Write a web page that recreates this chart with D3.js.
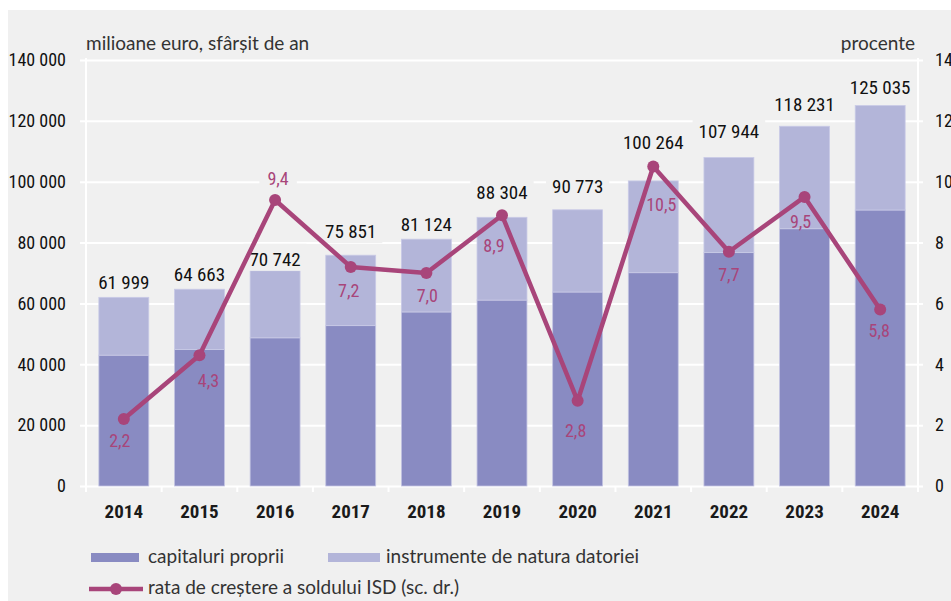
<!DOCTYPE html>
<html>
<head>
<meta charset="utf-8">
<script src="https://cdn.jsdelivr.net/npm/d3@7"></script>
<style>
  body { margin: 0; background: #fff; }
  svg { display: block; }
  .cond { font-family: "Liberation Sans Narrow", "Roboto Condensed", "DejaVu Sans Condensed", sans-serif; }
  .reg { font-family: Lato, "Noto Sans", sans-serif; }
</style>
</head>
<body>
<div id="chart"></div>
<script>
// categories and series
var years = ["2014", "2015", "2016", "2017", "2018", "2019", "2020", "2021", "2022", "2023", "2024"];
var equity = [43000, 44900, 48700, 52700, 57200, 61100, 63750, 70100, 76700, 84550, 90700];
var totals = [61999, 64663, 70742, 75851, 81124, 88304, 90773, 100264, 107944, 118231, 125035];
var growth = [2.2, 4.3, 9.4, 7.2, 7.0, 8.9, 2.8, 10.5, 7.7, 9.5, 5.8];
var leftTicks = [0, 20000, 40000, 60000, 80000, 100000, 120000, 140000];
var rightTicks = [0, 2, 4, 6, 8, 10, 12, 14];

var W = 951, H = 601;
var mLeft = 86, mRight = 918, mTop = 60, mBottom = 486;

var colDark = "#898bc2", colLight = "#b3b5d9", colLine = "#a8457a", bg = "#f0f0f0";

// label tweaks (pixels) to keep text off the line
var totGap = [8, 8, 5, 17, 8, 18, 17, 32, 20, 15, 12];
var rateDx = [-4, 9, 3, -2, 1, -8, -2, 8, 0, -4, -1];
var rateDy = [28, 32, -15, 30, 29, 37, 36, 44, 29, 31, 27];

var fmt = d3.formatLocale({decimal: ",", thousands: " ", grouping: [3], currency: ["", ""]});
var fmtInt = fmt.format(",d");
var fmtPct = fmt.format(".1f");

var svg = d3.select("#chart").append("svg")
    .attr("width", W)
    .attr("height", H);

svg.append("rect")
    .attr("x", 8).attr("y", 10)
    .attr("width", W - 8).attr("height", H - 10)
    .attr("fill", bg);

var x = d3.scaleBand().domain(years).range([mLeft, mRight]).paddingInner(0.34).paddingOuter(0.17);
var y = d3.scaleLinear().domain([0, 140000]).range([mBottom, mTop]);
var y2 = d3.scaleLinear().domain([0, 14]).range([mBottom, mTop]);

// gridlines
var grid = svg.append("g")
    .attr("transform", "translate(" + mLeft + ",0)")
    .call(d3.axisLeft(y).tickValues(leftTicks).tickSize(-(mRight - mLeft)).tickFormat(""));
grid.select(".domain").remove();
grid.selectAll("line")
    .attr("x1", -6).attr("x2", mRight - mLeft + 5)
    .attr("stroke", "#fff").attr("stroke-width", 2);

// vertical axis lines
[mLeft, mRight].forEach(function(px) {
  svg.append("line")
    .attr("x1", px).attr("x2", px)
    .attr("y1", mTop - 2).attr("y2", mBottom + 6)
    .attr("stroke", "#fff").attr("stroke-width", 2);
});

// x ticks at category boundaries
var bounds = years.map(function(d) { return x(d) - x.step() * x.paddingInner() / 2; });
bounds.push(mRight);
svg.append("g").selectAll("line")
  .data(bounds)
  .enter().append("line")
    .attr("x1", function(d) { return d; })
    .attr("x2", function(d) { return d; })
    .attr("y1", mBottom).attr("y2", mBottom + 6)
    .attr("stroke", "#fff").attr("stroke-width", 2);

// left axis labels
var yl = svg.append("g")
    .attr("class", "cond")
    .attr("transform", "translate(" + mLeft + ",0)")
    .call(d3.axisLeft(y).tickValues(leftTicks).tickSize(0).tickPadding(20).tickFormat(fmtInt));
yl.attr("font-family", null).attr("font-size", null);
yl.select(".domain").remove();
yl.selectAll("text").attr("font-size", 18).attr("fill", "#111");

// right axis labels (cut by the frame edge, as in the source)
var yr = svg.append("g")
    .attr("class", "cond")
    .attr("transform", "translate(" + mRight + ",0)")
    .call(d3.axisRight(y2).tickValues(rightTicks).tickSize(0).tickPadding(17));
yr.attr("font-family", null).attr("font-size", null);
yr.select(".domain").remove();
yr.selectAll("text").attr("font-size", 18).attr("fill", "#111");

// x axis labels
var xa = svg.append("g")
    .attr("class", "cond")
    .attr("transform", "translate(0," + mBottom + ")")
    .call(d3.axisBottom(x).tickSize(0).tickPadding(19));
xa.attr("font-family", null).attr("font-size", null);
xa.select(".domain").remove();
xa.selectAll("text").attr("font-size", 19).attr("font-weight", "bold").attr("fill", "#1a1a1a");

// axis titles
svg.append("text")
    .attr("class", "reg")
    .attr("x", mLeft).attr("y", 50)
    .attr("font-size", 19).attr("fill", "#333")
    .text("milioane euro, sfârșit de an");
svg.append("text")
    .attr("class", "reg")
    .attr("x", mRight - 3).attr("y", 50)
    .attr("text-anchor", "end")
    .attr("font-size", 19).attr("fill", "#333")
    .text("procente");

// stacked bars
var rows = years.map(function(d, i) {
  return {year: d, equity: equity[i], debt: totals[i] - equity[i], total: totals[i], rate: growth[i], i: i};
});

var bars = svg.append("g");
bars.selectAll(".eq")
  .data(rows)
  .enter().append("rect")
    .attr("class", "eq")
    .attr("x", function(d) { return x(d.year); })
    .attr("y", function(d) { return y(d.equity); })
    .attr("width", x.bandwidth())
    .attr("height", function(d) { return y(0) - y(d.equity); })
    .attr("fill", colDark)
    .attr("stroke", "#c3c4e2").attr("stroke-width", 0.8);
bars.selectAll(".dt")
  .data(rows)
  .enter().append("rect")
    .attr("class", "dt")
    .attr("x", function(d) { return x(d.year); })
    .attr("y", function(d) { return y(d.total); })
    .attr("width", x.bandwidth())
    .attr("height", function(d) { return y(d.equity) - y(d.total); })
    .attr("fill", colLight)
    .attr("stroke", "#c9cae6").attr("stroke-width", 0.8);

// total labels with background
var tl = svg.append("g").attr("class", "cond");
rows.forEach(function(d) {
  var cx = x(d.year) + x.bandwidth() / 2;
  var by = y(d.total) - totGap[d.i];
  var t = tl.append("text")
    .attr("x", cx).attr("y", by)
    .attr("text-anchor", "middle")
    .attr("font-size", 19).attr("fill", "#111")
    .text(fmtInt(d.total));
  var bb = t.node().getBBox();
  tl.insert("rect", "text")
    .attr("x", bb.x - 6).attr("y", bb.y - 4)
    .attr("width", bb.width + 12).attr("height", bb.height + 4)
    .attr("fill", bg);
});

// growth line
var line = d3.line()
    .x(function(d) { return x(d.year) + x.bandwidth() / 2; })
    .y(function(d) { return y2(d.rate); });
svg.append("path")
    .datum(rows)
    .attr("d", line)
    .attr("fill", "none")
    .attr("stroke", colLine)
    .attr("stroke-width", 4.5)
    .attr("stroke-linejoin", "round");
svg.append("g").selectAll("circle")
  .data(rows)
  .enter().append("circle")
    .attr("cx", function(d) { return x(d.year) + x.bandwidth() / 2; })
    .attr("cy", function(d) { return y2(d.rate); })
    .attr("r", 6)
    .attr("fill", colLine);

// growth labels: below the point, above it for 2016 (that one sits on a gridline, so it gets a backing)
var rl = svg.append("g").attr("class", "cond");
rows.forEach(function(d) {
  var cx = x(d.year) + x.bandwidth() / 2 + rateDx[d.i];
  var py = y2(d.rate);
  var t = rl.append("text")
    .attr("x", cx).attr("y", py + rateDy[d.i])
    .attr("text-anchor", "middle")
    .attr("font-size", 18).attr("fill", colLine)
    .text(fmtPct(d.rate));
  if (rateDy[d.i] < 0) {
    var bb = t.node().getBBox();
    rl.insert("rect", "text")
      .attr("x", bb.x - 8).attr("y", bb.y - 4)
      .attr("width", bb.width + 16).attr("height", bb.height + 6)
      .attr("fill", bg);
  }
});

// legend
var lg = svg.append("g").attr("class", "reg");
lg.append("rect").attr("x", 91).attr("y", 553).attr("width", 48).attr("height", 9).attr("fill", colDark);
lg.append("text").attr("x", 148).attr("y", 563).attr("font-size", 19).attr("fill", "#333").text("capitaluri proprii");
lg.append("rect").attr("x", 328).attr("y", 553).attr("width", 52).attr("height", 9).attr("fill", colLight);
lg.append("text").attr("x", 386).attr("y", 563).attr("font-size", 19).attr("fill", "#333").text("instrumente de natura datoriei");
lg.append("line").attr("x1", 89).attr("x2", 143).attr("y1", 589).attr("y2", 589)
    .attr("stroke", colLine).attr("stroke-width", 4.5);
lg.append("circle").attr("cx", 116).attr("cy", 589).attr("r", 6).attr("fill", colLine);
lg.append("text").attr("x", 148).attr("y", 594).attr("font-size", 19).attr("fill", "#333").text("rata de creștere a soldului ISD (sc. dr.)");
</script>
</body>
</html>
